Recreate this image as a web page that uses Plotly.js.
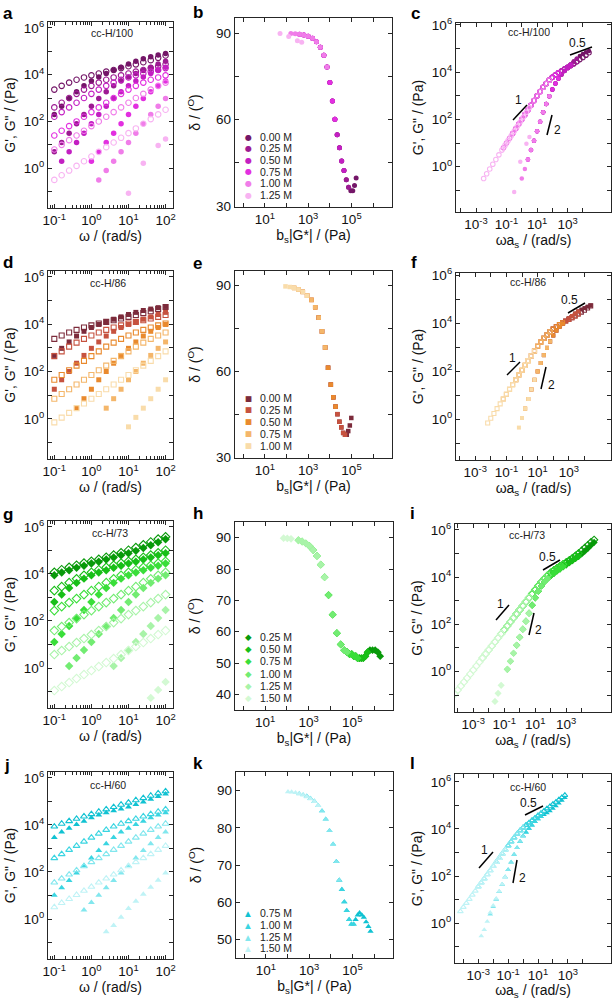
<!DOCTYPE html>
<html><head><meta charset="utf-8">
<script src="https://cdn.plot.ly/plotly-3.0.1.min.js"></script>
<style>html,body{margin:0;padding:0;background:#fff}</style>
</head><body>
<div id="chart" style="width:615px;height:1000px"></div>
<script>
// ---------------- DATA (moduli as log10(Pa)) ----------------
const omega = [0.1, 0.158, 0.251, 0.398, 0.631, 1.0, 1.58, 2.51, 3.98, 6.31, 10, 15.8, 25.1, 39.8, 63.1, 100];

// cc-H/100
const conc100 = ['0.00 M','0.25 M','0.50 M','0.75 M','1.00 M','1.25 M'];
const logGpp100 = [
 [3.36,3.52,3.66,3.78,3.88,3.97,4.05,4.13,4.2,4.28,4.36,4.44,4.53,4.62,4.72,4.82],
 [2.6,2.8,3.0,3.18,3.36,3.52,3.66,3.78,3.88,3.97,4.05,4.13,4.2,4.28,4.36,4.44],
 [2.2,2.4,2.6,2.8,3.0,3.18,3.36,3.52,3.66,3.78,3.88,3.97,4.05,4.13,4.2,4.28],
 [1.4,1.6,1.8,2.0,2.2,2.4,2.6,2.8,3.0,3.18,3.36,3.52,3.66,3.78,3.88,3.97],
 [0.8,1.0,1.2,1.4,1.6,1.8,2.0,2.2,2.4,2.6,2.8,3.0,3.18,3.36,3.52,3.66],
 [-0.5,-0.3,-0.1,0.1,0.3,0.5,0.7,0.9,1.1,1.3,1.5,1.7,1.9,2.1,2.3,2.5]
];
const logGp100 = [
 [2.3,2.65,2.98,3.27,3.52,3.73,3.9,4.05,4.19,4.32,4.45,4.57,4.68,4.77,4.84,4.9],
 [0.7,1.1,1.5,1.9,2.3,2.65,2.98,3.27,3.52,3.73,3.9,4.05,4.19,4.32,4.45,4.57],
 [null,0.3,0.7,1.1,1.5,1.9,2.3,2.65,2.98,3.27,3.52,3.73,3.9,4.05,4.19,4.32],
 [null,null,null,null,null,0.3,0.7,1.1,1.5,1.9,2.3,2.65,2.98,3.27,3.52,3.73],
 [null,null,null,null,null,null,-0.5,-0.1,0.3,0.7,1.1,1.5,1.9,2.3,2.65,2.98],
 [null,null,null,null,null,null,null,null,null,null,-1.07,null,0.21,null,0.97,1.25]
];
const logAs100 = [2.4, 1.6, 1.2, 0.4, -0.2, -1.5];
const logBs100 = [0.2, 0.2, 0.2, 0.2, 0.2, 0.2];

// cc-H/86
const conc86 = ['0.00 M','0.25 M','0.50 M','0.75 M','1.00 M'];
const logGpp86 = [
 [3.38,3.52,3.65,3.76,3.86,3.95,4.03,4.1,4.17,4.24,4.31,4.39,4.47,4.55,4.64,4.73],
 [2.65,2.85,3.05,3.22,3.38,3.52,3.65,3.76,3.86,3.95,4.03,4.1,4.17,4.24,4.31,4.39],
 [1.65,1.85,2.05,2.25,2.45,2.65,2.85,3.05,3.22,3.38,3.52,3.65,3.76,3.86,3.95,4.03],
 [0.85,1.05,1.25,1.45,1.65,1.85,2.05,2.25,2.45,2.65,2.85,3.05,3.22,3.38,3.52,3.65],
 [-0.15,0.05,0.25,0.45,0.65,0.85,1.05,1.25,1.45,1.65,1.85,2.05,2.25,2.45,2.65,2.85]
];
const logGp86 = [
 [2.68,2.98,3.25,3.5,3.7,3.86,3.99,4.1,4.21,4.31,4.41,4.5,4.58,4.64,4.7,4.75],
 [1.25,1.65,2.0,2.35,2.68,2.98,3.25,3.5,3.7,3.86,3.99,4.1,4.21,4.31,4.41,4.5],
 [null,null,null,0.45,0.85,1.25,1.65,2.0,2.35,2.68,2.98,3.25,3.5,3.7,3.86,3.99],
 [null,null,null,null,null,null,null,0.45,0.85,1.25,1.65,2.0,2.35,2.68,2.98,3.25],
 [null,null,null,null,null,null,null,null,null,null,-0.34,0.06,0.45,0.85,1.25,1.65]
];
const logAs86 = [2.4, 1.6, 0.6, -0.2, -1.2];
const logBs86 = [0.1, 0.1, 0.1, 0.1, 0.1];

// cc-H/73
const conc73 = ['0.25 M','0.50 M','0.75 M','1.00 M','1.25 M','1.50 M'];
const logGpp73 = [
 [4.07,4.18,4.28,4.37,4.46,4.54,4.62,4.71,4.8,4.9,5.01,5.12,5.24,5.36,5.48,5.58],
 [3.29,3.46,3.63,3.79,3.94,4.07,4.18,4.28,4.37,4.46,4.54,4.62,4.71,4.8,4.9,5.01],
 [2.44,2.61,2.78,2.95,3.12,3.29,3.46,3.63,3.79,3.94,4.07,4.18,4.28,4.37,4.46,4.54],
 [1.59,1.76,1.93,2.1,2.27,2.44,2.61,2.78,2.95,3.12,3.29,3.46,3.63,3.79,3.94,4.07],
 [0.57,0.74,0.91,1.08,1.25,1.42,1.59,1.76,1.93,2.1,2.27,2.44,2.61,2.78,2.95,3.12],
 [-0.96,-0.79,-0.62,-0.45,-0.28,-0.11,0.06,0.23,0.4,0.57,0.74,0.91,1.08,1.25,1.42,1.59]
];
const logGp73 = [
 [3.94,4.06,4.16,4.26,4.35,4.44,4.52,4.61,4.7,4.79,4.88,4.98,5.1,5.22,5.35,5.47],
 [2.81,3.12,3.4,3.62,3.8,3.94,4.06,4.16,4.26,4.35,4.44,4.52,4.61,4.7,4.79,4.88],
 [1.11,1.45,1.79,2.13,2.47,2.81,3.12,3.4,3.62,3.8,3.94,4.06,4.16,4.26,4.35,4.44],
 [null,null,0.09,0.43,0.77,1.11,1.45,1.79,2.13,2.47,2.81,3.12,3.4,3.62,3.8,3.94],
 [null,null,null,null,null,null,null,null,0.09,0.43,0.77,1.11,1.45,1.79,2.13,2.47],
 [null,null,null,null,null,null,null,null,null,null,null,null,null,-1.27,-0.93,-0.59]
];
const logAs73 = [2.8, 1.8, 0.8, -0.2, -1.4, -3.2];
const logBs73 = [0.6, 0.6, 0.6, 0.6, 0.6, 0.6];

// cc-H/60
const conc60 = ['0.75 M','1.00 M','1.25 M','1.50 M'];
const logGpp60 = [
 [3.93,4.05,4.16,4.26,4.36,4.46,4.56,4.66,4.76,4.86,4.95,5.05,5.14,5.24,5.34,5.43],
 [2.59,2.76,2.94,3.11,3.29,3.46,3.63,3.79,3.93,4.05,4.16,4.26,4.36,4.46,4.56,4.66],
 [1.55,1.72,1.89,2.07,2.24,2.42,2.59,2.76,2.94,3.11,3.29,3.46,3.63,3.79,3.93,4.05],
 [0.5,0.68,0.85,1.02,1.2,1.37,1.55,1.72,1.89,2.07,2.24,2.42,2.59,2.76,2.94,3.11]
];
const logGp60 = [
 [3.47,3.7,3.86,4.02,4.16,4.3,4.42,4.52,4.6,4.68,4.76,4.87,4.97,5.09,5.21,5.32],
 [1.01,1.33,1.64,1.96,2.27,2.59,2.91,3.2,3.47,3.7,3.86,4.02,4.16,4.3,4.42,4.52],
 [null,null,null,null,0.38,0.7,1.01,1.33,1.64,1.96,2.27,2.59,2.91,3.2,3.47,3.7],
 [null,null,null,null,null,null,null,-0.54,-0.28,0.07,0.45,0.75,1.05,1.35,1.65,1.96]
];
const logAs60 = [0.8, -0.8, -2.0, -3.2];
const logBs60 = [0.3, 0.3, 0.3, 0.3];

const colors100 = ['#741668','#9d1a93','#c31fc2','#e22fe0','#f07de9','#f8b3f2'];
const colors86  = ['#7c2b3b','#c6523f','#e98a2e','#f4b66a','#f9dcaa'];
const colors73  = ['#089a0a','#18bf18','#3ade3a','#72ec72','#a8f3a8','#d3f9d3'];
const colors60  = ['#10c2d2','#3ad5e1','#82e7ee','#bff3f6'];

// ---------------- STYLE / LAYOUT ----------------
const FONT = 'Arial, Liberation Sans, sans-serif';
const W = 615, H = 1000;
const px = p => p / W, py = p => 1 - p / H;
const lin = v => (v === null ? null : Math.pow(10, v));

const rows = [
  {conc: conc100, gp: logGp100, gpp: logGpp100, la: logAs100, lb: logBs100, colors: colors100, sym: 'circle', size: 5.5, glyph: '●', gsize: 8, label: 'cc-H/100'},
  {conc: conc86,  gp: logGp86,  gpp: logGpp86,  la: logAs86,  lb: logBs86,  colors: colors86,  sym: 'square', size: 5, glyph: '■', gsize: 7.5, label: 'cc-H/86'},
  {conc: conc73,  gp: logGp73,  gpp: logGpp73,  la: logAs73,  lb: logBs73,  colors: colors73,  sym: 'diamond', size: 6.5, glyph: '◆', gsize: 8.5, label: 'cc-H/73'},
  {conc: conc60,  gp: logGp60,  gpp: logGpp60,  la: logAs60,  lb: logBs60,  colors: colors60,  sym: 'triangle-up', size: 6, glyph: '▲', gsize: 7.5, label: 'cc-H/60'}
];

const boxes = [
  [48,173,22,208],[235,392,18,207],[456,611,23,212],
  [48,173,271,459],[235,392,271,458],[456,611,273,460],
  [48,173,521,708],[235,393,522,710],[455,611,524,712],
  [48,173,772,959],[236,393,772,958],[455,611,774,963]
];
const shiftX = [[-4.31,5.84],[-4.23,5.7],[-4.18,5.89],[-4.56,5.89]];
const shiftY = [[-1.92,6.08],[-1.69,6.1],[-1.72,6.25],[-1.69,6.33]];
const deltaY = [[29.7,95.2],[29.7,95],[35,95],[45,95]];
const deltaTicks = [[30,60,90],[30,60,90],[40,50,60,70,80,90],[50,60,70,80,90]];
const deltaMinor = [[45,75],[45,75],[],[]];

const traces = [];
const axId = n => (n === 1 ? '' : String(n));

rows.forEach((r, ri) => {
  const na = 3*ri+1, nb = 3*ri+2, nc = 3*ri+3;
  r.conc.forEach((c, i) => {
    const col = r.colors[i];
    const Gp = r.gp[i].map(lin), Gpp = r.gpp[i].map(lin);
    const filled = (s) => ({symbol: r.sym, size: s, color: col, line: {width: 0}});
    const open = (s) => ({symbol: r.sym + '-open', size: s, color: col, line: {width: 1.1, color: col}});
    traces.push({type:'scatter', mode:'markers', x: omega, y: Gp, xaxis:'x'+axId(na), yaxis:'y'+axId(na), marker: filled(r.size), name: c+" G'"});
    traces.push({type:'scatter', mode:'markers', x: omega, y: Gpp, xaxis:'x'+axId(na), yaxis:'y'+axId(na), marker: open(r.size), name: c+' G"'});
    const bx = [], by = [];
    Gp.forEach((g1, k) => {
      if (g1 === null) return;
      const g2 = Gpp[k];
      bx.push(Math.pow(10, r.lb[i]) * Math.hypot(g1, g2));
      by.push(Math.atan2(g2, g1) * 180 / Math.PI);
    });
    traces.push({type:'scatter', mode:'markers', x: bx, y: by, xaxis:'x'+axId(nb), yaxis:'y'+axId(nb), marker: filled(r.size - 0.5), name: c});
    const cx = omega.map(w => w * Math.pow(10, r.la[i]));
    traces.push({type:'scatter', mode:'markers', x: cx, y: Gp, xaxis:'x'+axId(nc), yaxis:'y'+axId(nc), marker: filled(r.size - 1), name: c+" G' master"});
    traces.push({type:'scatter', mode:'markers', x: cx, y: Gpp, xaxis:'x'+axId(nc), yaxis:'y'+axId(nc), marker: open(r.size - 1), name: c+' G" master'});
  });
});

const lineCol = '#262626';
function baseAxis(extra) {
  return Object.assign({
    showline: true, mirror: 'ticks', linecolor: lineCol, linewidth: 1.3,
    ticks: 'inside', ticklen: 4, tickwidth: 1, tickcolor: lineCol,
    showgrid: false, zeroline: false, fixedrange: true,
    tickfont: {family: FONT, size: 13.5, color: '#111'}
  }, extra);
}
const sup = p => '10<sup>' + p + '</sup>';
function decadeList(lo, hi, step) { const a = []; for (let p = lo; p <= hi; p += step) a.push(Math.pow(10, p)); return a; }
function subDecades(lo, hi) { const a = []; for (let p = lo; p <= hi; p++) for (let k = 2; k <= 9; k++) a.push(k * Math.pow(10, p)); return a; }
function title(text, standoff) { return {text, standoff, font: {family: FONT, size: 14, color: '#111'}}; }

const layout = {
  width: W, height: H, margin: {l: 0, r: 0, t: 0, b: 0},
  paper_bgcolor: '#fff', plot_bgcolor: '#fff', showlegend: false, hovermode: false,
  font: {family: FONT, size: 12, color: '#111'},
  annotations: [], shapes: []
};

const GY = "G', G\" / (Pa)";
for (let ri = 0; ri < 4; ri++) {
  const ids = [3*ri+1, 3*ri+2, 3*ri+3];
  ids.forEach((n, pi) => {
    const b = boxes[n-1];
    const xd = [px(b[0]), px(b[1])], yd = [py(b[3]), py(b[2])];
    let xa, ya;
    if (pi === 0) {
      xa = baseAxis({type: 'log', range: [-1.17, 2.2], tickmode: 'array',
        tickvals: decadeList(-1, 2, 1), ticktext: [sup('-1'), sup('0'), sup('1'), sup('2')],
        minor: {tickmode: 'array', tickvals: subDecades(-2, 1), ticks: 'inside', ticklen: 2.5, tickcolor: lineCol},
        title: title('ω / (rad/s)', 2)});
      ya = baseAxis({type: 'log', range: [-1.7, 6.25], tickmode: 'array',
        tickvals: decadeList(0, 6, 2), ticktext: [sup('0'), sup('2'), sup('4'), sup('6')],
        minor: {tickmode: 'array', tickvals: decadeList(-1, 5, 2), ticks: 'inside', ticklen: 4, tickcolor: lineCol},
        title: title(GY, 4)});
    } else if (pi === 1) {
      xa = baseAxis({type: 'log', range: [-0.38, 6.87], tickmode: 'array',
        tickvals: decadeList(1, 5, 2), ticktext: [sup('1'), sup('3'), sup('5')],
        minor: {tickmode: 'array', tickvals: decadeList(0, 6, 2), ticks: 'inside', ticklen: 4, tickcolor: lineCol},
        title: title('b<sub>s</sub>|G*| / (Pa)', 2)});
      ya = baseAxis({type: 'linear', range: deltaY[ri], tickmode: 'array',
        tickvals: deltaTicks[ri], ticktext: deltaTicks[ri].map(String),
        minor: {tickmode: 'array', tickvals: deltaMinor[ri], ticks: 'inside', ticklen: 4, tickcolor: lineCol},
        title: title('δ / (<sup>O</sup>)', 12)});
    } else {
      xa = baseAxis({type: 'log', range: shiftX[ri], tickmode: 'array',
        tickvals: decadeList(-3, 3, 2), ticktext: [sup('-3'), sup('-1'), sup('1'), sup('3')],
        minor: {tickmode: 'array', tickvals: decadeList(-4, 5, 2), ticks: 'inside', ticklen: 4, tickcolor: lineCol},
        title: title('ωa<sub>s</sub> / (rad/s)', 2)});
      ya = baseAxis({type: 'log', range: shiftY[ri], tickmode: 'array',
        tickvals: decadeList(0, 6, 2), ticktext: [sup('0'), sup('2'), sup('4'), sup('6')],
        minor: {tickmode: 'array', tickvals: decadeList(-1, 5, 2), ticks: 'inside', ticklen: 4, tickcolor: lineCol},
        title: title(GY, 4)});
    }
    xa.domain = xd; xa.anchor = 'y' + axId(n);
    ya.domain = yd; ya.anchor = 'x' + axId(n);
    layout['xaxis' + axId(n)] = xa;
    layout['yaxis' + axId(n)] = ya;
  });
}

// panel letters
const letters = [['a',7.5,13],['b',197.5,12.5],['c',415,13],['d',7.5,262],['e',197.5,263],['f',414,262],
                 ['g',8,514],['h',197.5,513],['i',412,513],['j',7,765],['k',198,763],['l',412,763]];
letters.forEach(([t,x,y]) => layout.annotations.push({text: '<b>'+t+'</b>', x: px(x), y: py(y), xref:'paper', yref:'paper',
  showarrow:false, xanchor:'center', yanchor:'middle', font:{family: FONT, size: 17, color:'#000'}}));

// sample labels
const sampleLbl = [[112,33],[529,32],[108,283],[527.5,282],[110,533],[527,535],[108,785],[528,787]];
sampleLbl.forEach(([x,y], k) => layout.annotations.push({text: rows[Math.floor(k/2)].label, x: px(x), y: py(y), xref:'paper', yref:'paper',
  showarrow:false, xanchor:'center', yanchor:'middle', font:{family: FONT, size: 10.5, color:'#222'}}));

// legends (inside delta panels)
const legendY = [[137,148,160,172,183,195],[398,410,422,434,446],[637,649,661,674,686,698],[913,925,937,948]];
rows.forEach((r, ri) => {
  r.conc.forEach((c, i) => {
    const y = legendY[ri][i];
    layout.annotations.push({text: r.glyph, x: px(248), y: py(y), xref:'paper', yref:'paper', showarrow:false,
      xanchor:'center', yanchor:'middle', font:{family:'DejaVu Sans', size: r.gsize, color: r.colors[i]}});
    layout.annotations.push({text: c, x: px(258), y: py(y), xref:'paper', yref:'paper', showarrow:false,
      xanchor:'left', yanchor:'middle', font:{family: FONT, size: 10.5, color:'#222'}});
  });
});

// slope guide lines and labels
const slopeLines = [
  [[570,55,592,47],[513,120,527,105],[547,135,552,115]],
  [[568,313,585,303],[507,375,520,362],[541,389,546,367]],
  [[543,570,560,560],[496,620,509,605],[529,635,534,613]],
  [[525,815,543,806],[479,868,493,852],[513,883,517,860]]
];
const slopeLabels = [
  [['0.5',577,43],['1',518,100],['2',557,130]],
  [['0.5',569,300],['1',512,358],['2',551,385]],
  [['0.5',547,557],['1',501,604],['2',538,630]],
  [['0.5',528,803],['1',484,850],['2',522,878]]
];
slopeLines.forEach(set => set.forEach(([x0,y0,x1,y1]) => layout.shapes.push({type:'line', xref:'paper', yref:'paper',
  x0: px(x0), y0: py(y0), x1: px(x1), y1: py(y1), line:{color:'#000', width:1.5}})));
slopeLabels.forEach(set => set.forEach(([t,x,y]) => layout.annotations.push({text: t, x: px(x), y: py(y), xref:'paper', yref:'paper',
  showarrow:false, xanchor:'center', yanchor:'middle', font:{family: FONT, size: 12, color:'#111'}})));

Plotly.newPlot('chart', traces, layout, {displayModeBar: false});
</script>
</body></html>
